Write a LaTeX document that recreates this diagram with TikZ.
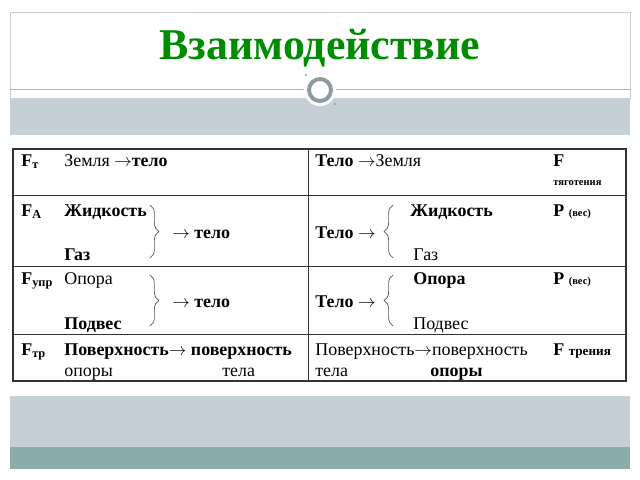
\documentclass[tikz,border=0pt]{standalone}
\usepackage{fontspec}
\setmainfont{Liberation Serif}
\usepackage{xcolor}
\usetikzlibrary{decorations.pathreplacing}
\definecolor{bandgray}{RGB}{197,208,214}
\definecolor{banddark}{RGB}{139,172,172}
\definecolor{ringgray}{RGB}{140,155,160}
\definecolor{titlegreen}{RGB}{0,140,0}
\tikzset{
  txt/.style={anchor=base west, inner sep=0pt, font=\fontsize{10.2}{12}\selectfont},
  btxt/.style={txt, font=\fontsize{10.2}{12}\selectfont\bfseries},
  sub/.style={anchor=base west, inner sep=0pt, font=\fontsize{6}{7}\selectfont\bfseries},
  brc/.style={decorate, decoration={brace, amplitude=5pt}, gray!70!black, thin}
}
\begin{document}
\begin{tikzpicture}[x=0.02cm,y=-0.02cm]
                \useasboundingbox (0,0) rectangle (640,480);
                \fill [white] (0,0) rectangle (640,480);
                % header
                \draw [gray!40] (10,12) rectangle (630,98);
                \fill [bandgray] (10,98) rectangle (630,135);
                \draw [gray!60] (10,89) -- (630,89);
                \fill [white] (320,90) circle (16);
                \draw [ringgray, line width=2.2pt] (320,90) circle (11);
                \fill [ringgray] (306,75) circle (1.2);
                \fill [ringgray] (335,104) circle (1.2);
                \node (title) [anchor=base, inner sep=0pt, text=titlegreen, font=\fontsize{25}{28}\selectfont\bfseries] at (320,59) {Взаимодействие};
                % footer
                \fill [bandgray] (10,396) rectangle (630,447);
                \fill [banddark] (10,447) rectangle (630,469);
                % table
                \draw [thick, black!80] (13,149) rectangle (626,381);
                \draw [black!80] (13,195) -- (626,195);
                \draw [black!80] (13,266) -- (626,266);
                \draw [black!80] (13,334) -- (626,334);
                \draw [black!80] (308,149) -- (308,381);
                % row 1
                \node (ft) [btxt] at (21,166) {F\textsubscript{\scriptsize т}};
                \node (r1l) [txt] at (64,166) {Земля $\rightarrow$\textbf{тело}};
                \node (r1r) [txt] at (315,166) {\textbf{Тело} $\rightarrow$Земля};
                \node (fg) [btxt] at (553,166) {F};
                \node (fgs) [sub] at (553,185) {тяготения};
                % row 2
                \node (fa) [btxt] at (21,216) {F\textsubscript{\scriptsize A}};
                \node (liq) [btxt] at (64,216) {Жидкость};
                \node (gas) [btxt] at (64,260) {Газ};
                \draw [brc] (150,205) -- (150,258);
                \node (to2) [btxt] at (172,238) {$\rightarrow$ тело};
                \node (b2) [btxt] at (315,238) {Тело $\rightarrow$};
                \draw [brc] (393,258) -- (393,205);
                \node (liq2) [btxt] at (410,216) {Жидкость};
                \node (gas2) [txt] at (413,260) {Газ};
                \node (p2) [btxt] at (553,216) {P {\fontsize{6}{7}\selectfont(вес)}};
                % row 3
                \node (fu) [btxt] at (21,284) {F\textsubscript{\scriptsize упр}};
                \node (op) [txt] at (64,284) {Опора};
                \node (pod) [btxt] at (64,329) {Подвес};
                \draw [brc] (150,275) -- (150,326);
                \node (to3) [btxt] at (172,307) {$\rightarrow$ тело};
                \node (b3) [btxt] at (315,307) {Тело $\rightarrow$};
                \draw [brc] (393,326) -- (393,275);
                \node (op2) [btxt] at (413,284) {Опора};
                \node (pod2) [txt] at (413,329) {Подвес};
                \node (p3) [btxt] at (553,284) {P {\fontsize{6}{7}\selectfont(вес)}};
                % row 4
                \node (ftr) [btxt] at (21,355) {F\textsubscript{\scriptsize тр}};
                \node (s1) [btxt] at (64,355) {Поверхность$\rightarrow$ поверхность};
                \node (s1a) [txt] at (64,376) {опоры};
                \node (s1b) [txt] at (222,376) {тела};
                \node (s2) [txt] at (315,355) {Поверхность$\rightarrow$поверхность};
                \node (s2a) [txt] at (315,376) {тела};
                \node (s2b) [btxt] at (430,376) {опоры};
                \node (ftr2) [btxt] at (553,355) {F {\fontsize{7.5}{8}\selectfont трения}};
\end{tikzpicture}
\end{document}
